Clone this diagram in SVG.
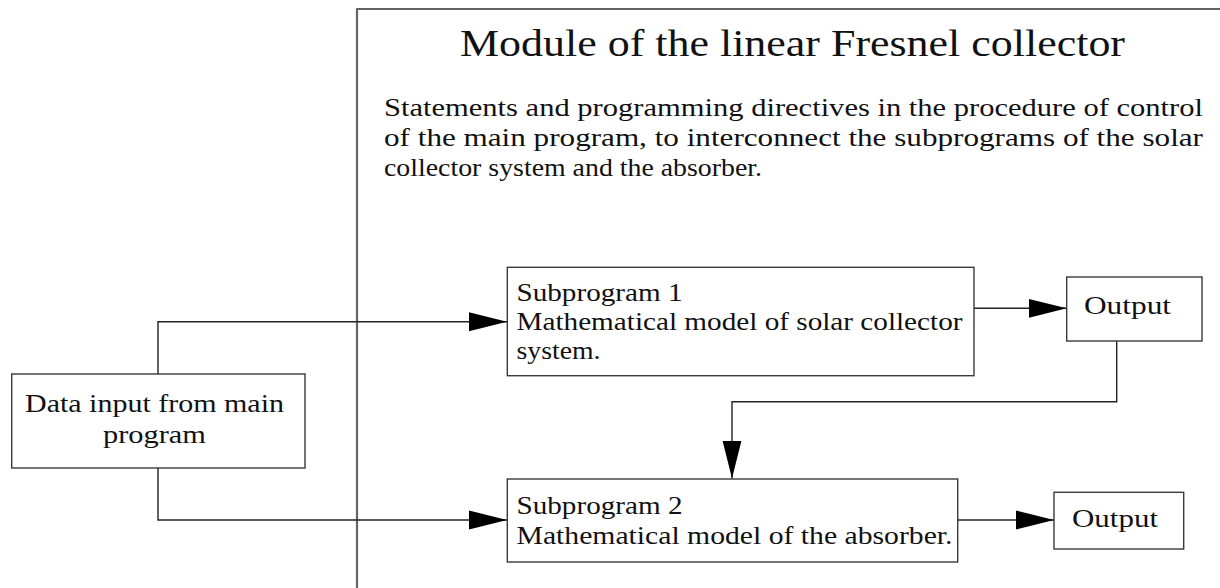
<svg xmlns="http://www.w3.org/2000/svg" width="1220" height="588" viewBox="0 0 1220 588">
<style>
.bg{fill:#ffffff}
.frame{fill:none;stroke:#666666;stroke-width:2.2}
.box{fill:#ffffff;stroke:#3a3a3a;stroke-width:1.4}
.con{fill:none;stroke:#222222;stroke-width:1.4}
.t{font-family:"Liberation Serif","Times New Roman",serif;fill:#111111}
.title{font-size:38px}
.p{font-size:25px}
.b{font-size:25px}
</style>
<defs>
<marker id="arr" markerUnits="userSpaceOnUse" markerWidth="40" markerHeight="22" refX="38" refY="10" orient="auto">
<path d="M0,0.5 L38,10 L0,19.5 Z" fill="#000000"/>
</marker>
</defs>
<rect class="bg" x="0" y="0" width="1220" height="588"/>
<g id="module">
<path class="frame" d="M357,588 V9 H1220"/>
<text class="t title" x="460" y="56" textLength="665" lengthAdjust="spacingAndGlyphs">Module of the linear Fresnel collector</text>
<text class="t p" x="384" y="116" textLength="819" lengthAdjust="spacingAndGlyphs">Statements and programming directives  in the  procedure of control</text>
<text class="t p" x="384" y="146" textLength="819" lengthAdjust="spacingAndGlyphs">of the main program, to interconnect the subprograms of the solar</text>
<text class="t p" x="384" y="176" textLength="378" lengthAdjust="spacingAndGlyphs">collector system and the absorber.</text>
</g>
<g id="connectors">
<path class="con" d="M158,374 V321.7 H507" marker-end="url(#arr)"/>
<path class="con" d="M158,468 V520 H507" marker-end="url(#arr)"/>
<path class="con" d="M974,308.3 H1066.7" marker-end="url(#arr)"/>
<path class="con" d="M1116.7,341 V401.7 H732 V478.5" marker-end="url(#arr)"/>
<path class="con" d="M957.7,520 H1054" marker-end="url(#arr)"/>
</g>
<g id="data-input">
<rect class="box" x="11.7" y="374" width="293.3" height="94"/>
<text class="t b" x="25" y="412" textLength="259" lengthAdjust="spacingAndGlyphs">Data input from main</text>
<text class="t b" x="103" y="443" textLength="103" lengthAdjust="spacingAndGlyphs">program</text>
</g>
<g id="subprogram1">
<rect class="box" x="507.3" y="267.3" width="466.7" height="108.4"/>
<text class="t b" x="516.5" y="301" textLength="166" lengthAdjust="spacingAndGlyphs">Subprogram 1</text>
<text class="t b" x="516.5" y="330" textLength="446" lengthAdjust="spacingAndGlyphs">Mathematical model of solar collector</text>
<text class="t b" x="516.5" y="359" textLength="84" lengthAdjust="spacingAndGlyphs">system.</text>
</g>
<g id="output1">
<rect class="box" x="1066.7" y="277" width="135.3" height="64"/>
<text class="t b" x="1084" y="314" textLength="87" lengthAdjust="spacingAndGlyphs">Output</text>
</g>
<g id="subprogram2">
<rect class="box" x="507.3" y="479" width="450.4" height="83"/>
<text class="t b" x="516.5" y="514" textLength="166" lengthAdjust="spacingAndGlyphs">Subprogram 2</text>
<text class="t b" x="516.5" y="544" textLength="436" lengthAdjust="spacingAndGlyphs">Mathematical model of the absorber.</text>
</g>
<g id="output2">
<rect class="box" x="1054" y="492.3" width="129.7" height="56.7"/>
<text class="t b" x="1072" y="527" textLength="86" lengthAdjust="spacingAndGlyphs">Output</text>
</g>
</svg>
